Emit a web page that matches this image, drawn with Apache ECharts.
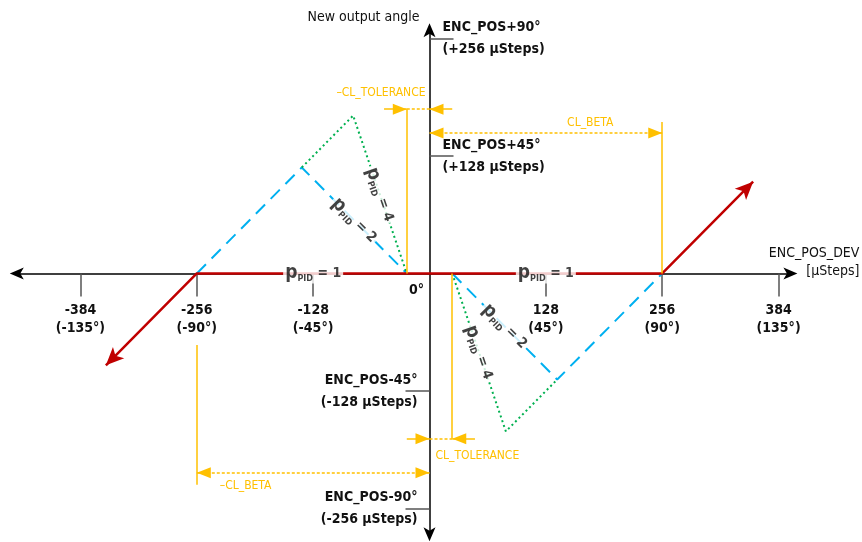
<!DOCTYPE html>
<html>
<head>
<meta charset="utf-8">
<script src="https://cdn.jsdelivr.net/npm/echarts@6/dist/echarts.min.js"></script>
<style>
  html, body { margin: 0; background: #fff; }
  #main { width: 862px; height: 542px; }
</style>
</head>
<body>
<div id="main"></div>
<script>
// tick positions and labels
const xTicks = [-384, -256, -128, 128, 256, 384];
const xTickLabels = ['-384\n(-135°)', '-256\n(-90°)', '-128\n(-45°)', '128\n(45°)', '256\n(90°)', '384\n(135°)'];
const yTicksUp = [128, 256];
const yTickLabelsUp = ['ENC_POS+45°\n(+128 µSteps)', 'ENC_POS+90°\n(+256 µSteps)'];
const yTicksDown = [-256, -128];
const yTickLabelsDown = ['ENC_POS-90°\n(-256 µSteps)', 'ENC_POS-45°\n(-128 µSteps)'];

// regulation curves, x = ENC_POS_DEV, y = new output angle (µSteps)
const pid1 = [[-356, -100], [-256, 0], [256, 0], [356, 100]];
const pid2Left = [[-256, 0], [-140.5, 115.5], [-25, 0]];
const pid2Right = [[25, 0], [140.5, -115.5], [256, 0]];
const pid4Left = [[-140.5, 115.5], [-84, 172], [-25, 0]];
const pid4Right = [[25, 0], [84, -172], [140.5, -115.5]];

// limits
const clTolerance = 25;
const clBeta = 256;

const FONT = "'DejaVu Sans Condensed', 'Liberation Sans Narrow', 'Noto Sans', sans-serif";
const RED = '#c00000', BLUE = '#00b0f0', GREEN = '#00b050', YEL = '#ffc000', INK = '#111';

// annotation rows (µSteps on the y scale)
const tolRowUp = 179, betaRowUp = 153, tolRowDown = -180, betaRowDown = -217;

// plot area and ranges
const GRID = { left: 16.8, top: 30.2, width: 773.6, height: 504 };
const X_MIN = -454, X_MAX = 397, Y_MIN = -284, Y_MAX = 265;
// axes cross at the origin: shift them from the grid edges
const x0 = GRID.width * (0 - X_MIN) / (X_MAX - X_MIN);
const y0 = GRID.height * (Y_MAX - 0) / (Y_MAX - Y_MIN);

function mid(seg, i) {
  return [(seg[i][0] + seg[i + 1][0]) / 2, (seg[i][1] + seg[i + 1][1]) / 2];
}

function lut(ticks, labels) {
  return function (v) {
    const i = ticks.indexOf(v);
    return i < 0 ? '' : labels[i];
  };
}

// yellow helpers
function solid(a, b) {
  return [{ coord: a, symbol: 'none' }, { coord: b, symbol: 'none' }];
}
function arrow(a, b) {
  return [{ coord: a, symbol: 'none' }, { coord: b, symbol: 'triangle', symbolSize: [11, 14], symbolOffset: [0, 7] }];
}
function dotted(a, b, s1, s2) {
  return [
    { coord: a, symbol: s1 ? 'triangle' : 'none', symbolSize: [11, 14], symbolOffset: [0, 7] },
    { coord: b, symbol: s2 ? 'triangle' : 'none', symbolSize: [11, 14], symbolOffset: [0, 7],
      lineStyle: { type: [3, 2] } }
  ];
}

const pidLabels = [
  { value: [xTicks[2], 0], gain: 1, rot: 0 },
  { value: [xTicks[3], 0], gain: 1, rot: 0 },
  { value: mid(pid2Left, 1), gain: 2, rot: -45 },
  { value: mid(pid2Right, 0), gain: 2, rot: -45 },
  { value: mid(pid4Left, 1), gain: 4, rot: -71 },
  { value: mid(pid4Right, 0), gain: 4, rot: -71 }
];

const chart = echarts.init(document.getElementById('main'));

const yBase = {
  type: 'value',
  min: Y_MIN,
  max: Y_MAX,
  splitLine: { show: false },
  axisTick: { length: 24, lineStyle: { color: '#555', width: 1.5 } },
  axisLabel: { fontFamily: FONT, fontWeight: 'bold', fontSize: 14, color: INK, lineHeight: 22 }
};

const bold = { fontFamily: FONT, fontWeight: 'bold', color: INK, textBorderWidth: 0 };

chart.setOption({
  animation: false,
  textStyle: { fontFamily: FONT },
  grid: Object.assign({ outerBoundsMode: 'none', containLabel: false }, GRID),
  xAxis: {
    type: 'value',
    min: X_MIN,
    max: X_MAX,
    position: 'bottom',
    offset: -(GRID.height - y0),
    axisLine: { onZero: false, symbol: ['arrow', 'arrow'], symbolSize: [9, 14], symbolOffset: [-7, 7],
      lineStyle: { color: '#000', width: 1.5 } },
    splitLine: { show: false },
    axisTick: { length: 23, customValues: xTicks, lineStyle: { color: '#555', width: 1.5 } },
    axisLabel: { customValues: xTicks, formatter: lut(xTicks, xTickLabels), margin: 28,
      fontFamily: FONT, fontWeight: 'bold', fontSize: 14, color: INK, lineHeight: 18 }
  },
  yAxis: [
    Object.assign({}, yBase, {
      position: 'right',
      offset: -(GRID.width - x0),
      axisLine: { show: false, onZero: false },
      axisTick: Object.assign({}, yBase.axisTick, { customValues: yTicksUp }),
      axisLabel: Object.assign({}, yBase.axisLabel, { customValues: yTicksUp, margin: 13,
        formatter: lut(yTicksUp, yTickLabelsUp) })
    }),
    Object.assign({}, yBase, {
      position: 'left',
      offset: -x0,
      name: 'New output angle',
      nameLocation: 'end',
      nameGap: 13,
      nameTextStyle: { fontFamily: FONT, fontSize: 14, color: INK, align: 'right',
        verticalAlign: 'middle', padding: [0, 10, 0, 0] },
      axisLine: { show: true, onZero: false, symbol: ['arrow', 'arrow'], symbolOffset: [-7, 7],
        symbolSize: [9, 14], lineStyle: { color: '#000', width: 1.5 } },
      axisTick: Object.assign({}, yBase.axisTick, { customValues: yTicksDown }),
      axisLabel: Object.assign({}, yBase.axisLabel, { customValues: yTicksDown, margin: 12,
        formatter: lut(yTicksDown, yTickLabelsDown) })
    })
  ],
  series: [
    {
      name: 'limits',
      type: 'line',
      data: [],
      silent: true,
      markLine: {
        silent: true,
        animation: false,
        symbol: 'none',
        label: { show: false },
        lineStyle: { color: YEL, width: 1.5, type: 'solid' },
        data: [
          solid([-clTolerance, tolRowUp], [-clTolerance, 0]),
          arrow([-clTolerance - 25, tolRowUp], [-clTolerance, tolRowUp]),
          dotted([-clTolerance, tolRowUp], [0, tolRowUp], false, false),
          arrow([25, tolRowUp], [0, tolRowUp]),
          dotted([0, betaRowUp], [clBeta, betaRowUp], true, true),
          solid([clBeta, 165], [clBeta, 0]),
          solid([clTolerance, 0], [clTolerance, tolRowDown]),
          arrow([-25, tolRowDown], [0, tolRowDown]),
          dotted([0, tolRowDown], [clTolerance, tolRowDown], false, false),
          arrow([clTolerance + 25, tolRowDown], [clTolerance, tolRowDown]),
          solid([-clBeta, -78], [-clBeta, -230]),
          dotted([-clBeta, betaRowDown], [0, betaRowDown], true, true)
        ]
      },
      markPoint: {
        silent: true,
        symbol: 'circle',
        symbolSize: 0,
        label: { show: true, color: YEL, fontFamily: FONT, fontSize: 12, formatter: '{b}' },
        data: [
          { name: '–CL_TOLERANCE', coord: [0, tolRowUp], label: { align: 'right', offset: [-4, -16] } },
          { name: 'CL_BETA', coord: [clBeta, betaRowUp], label: { align: 'center', offset: [-72, -10] } },
          { name: 'CL_TOLERANCE', coord: [0, tolRowDown], label: { align: 'left', offset: [6, 17] } },
          { name: '–CL_BETA', coord: [-clBeta, betaRowDown], label: { align: 'left', offset: [23, 13] } },
          { name: 'ENC_POS_DEV\n[µSteps]', coord: [X_MAX, 0],
            label: { align: 'right', color: INK, fontSize: 14, lineHeight: 18, offset: [69, -11] } }
        ]
      }
    },
    {
      name: 'pPID = 2 left', type: 'line', data: pid2Left, symbol: 'none', z: 3,
      lineStyle: { color: BLUE, width: 2, type: [13, 8] }
    },
    {
      name: 'pPID = 2 right', type: 'line', data: pid2Right, symbol: 'none', z: 3,
      lineStyle: { color: BLUE, width: 2, type: [13, 8] }
    },
    {
      name: 'pPID = 4 left', type: 'line', data: pid4Left, symbol: 'none', z: 3,
      lineStyle: { color: GREEN, width: 2, type: [2, 3] }
    },
    {
      name: 'pPID = 4 right', type: 'line', data: pid4Right, symbol: 'none', z: 3,
      lineStyle: { color: GREEN, width: 2, type: [2, 3] }
    },
    {
      name: 'pPID = 1', type: 'line', z: 4,
      symbol: 'none',
      lineStyle: { color: RED, width: 2.5 },
      itemStyle: { color: RED },
      data: pid1.map(function (p, i) {
        if (i === 0) return { value: p, symbol: 'arrow', symbolSize: [12, 18], symbolRotate: 135 };
        if (i === pid1.length - 1) return { value: p, symbol: 'arrow', symbolSize: [12, 18], symbolRotate: -45 };
        return { value: p };
      }),
      markPoint: {
        silent: true,
        symbol: 'circle',
        symbolSize: 0,
        label: { show: true, formatter: '0°', color: INK, fontFamily: FONT, fontWeight: 'bold',
          fontSize: 14, offset: [-13, 17] },
        data: [{ coord: [0, 0] }]
      }
    },
    {
      name: 'gain labels', type: 'scatter', z: 6, symbolSize: 0, silent: true,
      itemStyle: { color: '#fff' },
      data: pidLabels.map(function (d) {
        return { value: d.value, gain: d.gain, label: { rotate: d.rot } };
      }),
      label: {
        show: true,
        position: 'inside',
        color: INK,
        textBorderWidth: 0,
        backgroundColor: '#fff',
        padding: [0, 2],
        formatter: function (p) {
          return '{p|p}{s|PID}{e| = ' + p.data.gain + '}';
        },
        rich: {
          p: Object.assign({ fontSize: 19, lineHeight: 20 }, bold),
          s: Object.assign({ fontSize: 9, lineHeight: 12, verticalAlign: 'bottom' }, bold),
          e: Object.assign({ fontSize: 14, lineHeight: 20 }, bold)
        }
      }
    }
  ]
});
</script>
</body>
</html>
